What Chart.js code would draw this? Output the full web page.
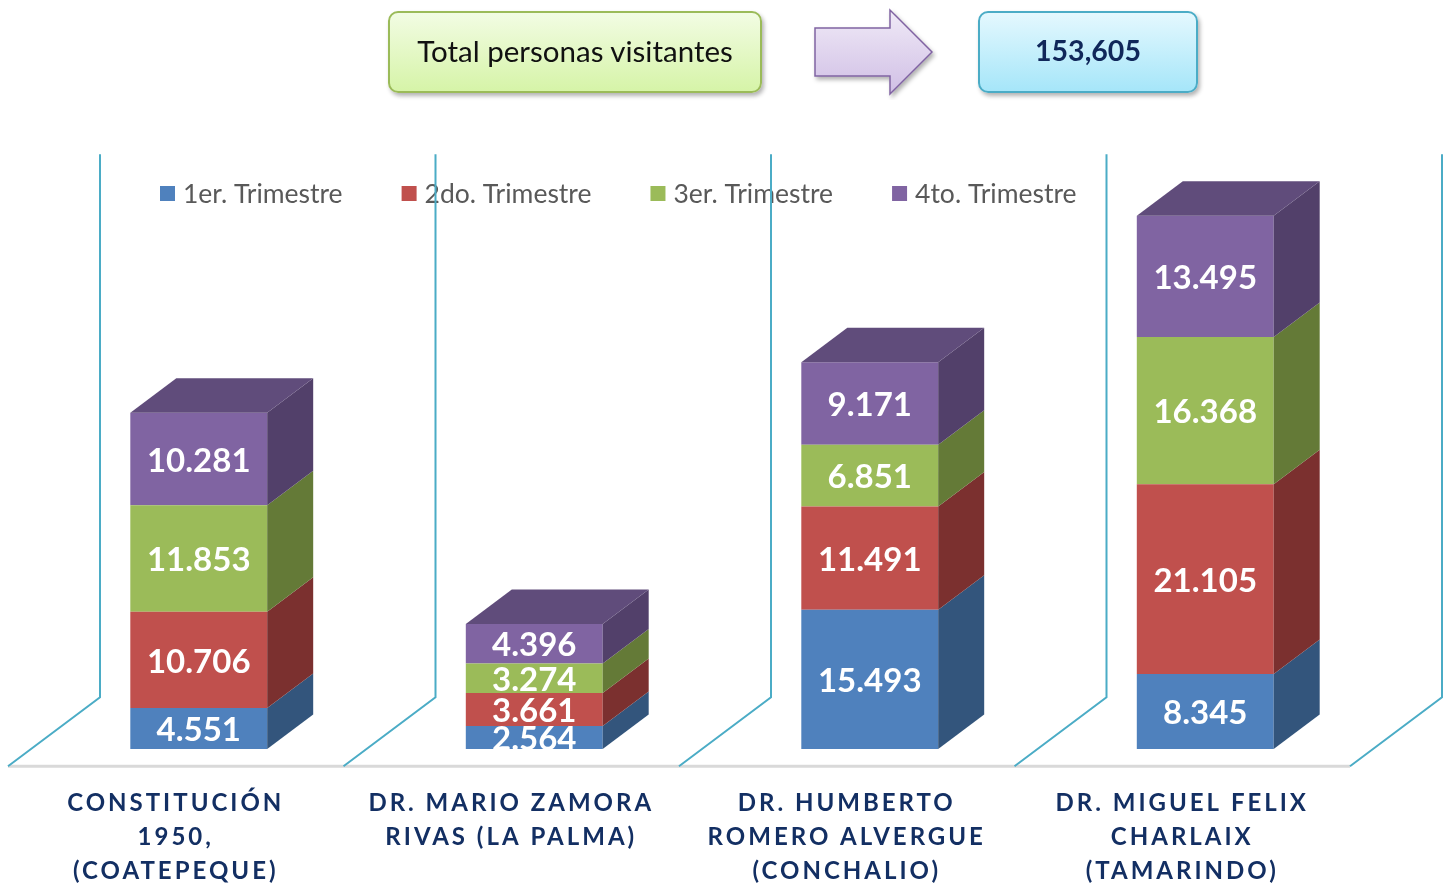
<!DOCTYPE html>
<html>
<head>
<meta charset="utf-8">
<title>Total personas visitantes</title>
<script src="https://cdn.jsdelivr.net/npm/chart.js@4.4.1/dist/chart.umd.min.js"></script>
<style>
  body { margin: 0; background: #fff; font-family: Lato, sans-serif; }
  #wrap { position: relative; width: 1443px; height: 886px; }
  #c { position: absolute; left: 0; top: 0; }
  .box {
    position: absolute; top: 11px; height: 82px; box-sizing: border-box;
    border-radius: 10px; display: flex; align-items: center; justify-content: center;
    padding-bottom: 4px;
    box-shadow: 2px 3px 4px rgba(0, 0, 0, 0.3);
  }
  #lbl { left: 388px; width: 374px; border: 2px solid #9BBB59;
    background: linear-gradient(#F2FCE3, #D6F4A8); font-size: 29.5px; color: #111; }
  #total { left: 978px; width: 220px; border: 2px solid #4BACC6;
    background: linear-gradient(#E4F8FE, #A6E6F9); font-size: 28.5px; font-weight: bold; color: #10275A; }
  #arrow { position: absolute; left: 812px; top: 8px; }
</style>
</head>
<body>
<div id="wrap">
  <canvas id="c" width="1443" height="886"></canvas>
  <div class="box" id="lbl">Total personas visitantes</div>
  <svg id="arrow" width="126" height="92" viewBox="0 0 126 92">
    <defs>
      <linearGradient id="ag" x1="0" y1="0" x2="0" y2="1">
        <stop offset="0" stop-color="#F0EAF7"/>
        <stop offset="1" stop-color="#D0BFE5"/>
      </linearGradient>
      <filter id="sh"><feDropShadow dx="2" dy="3" stdDeviation="2" flood-opacity="0.3"/></filter>
    </defs>
    <polygon points="3,20 78,20 78,2 120,44 78,86 78,68 3,68" fill="url(#ag)" stroke="#8064A2" stroke-width="1.5" filter="url(#sh)"/>
  </svg>
  <div class="box" id="total"></div>
</div>
<script>
// data
const categories = [
  ["CONSTITUCIÓN", "1950,", "(COATEPEQUE)"],
  ["DR. MARIO ZAMORA", "RIVAS (LA PALMA)"],
  ["DR. HUMBERTO", "ROMERO ALVERGUE", "(CONCHALIO)"],
  ["DR. MIGUEL FELIX", "CHARLAIX", "(TAMARINDO)"]
];
const seriesNames = ["1er. Trimestre", "2do. Trimestre", "3er. Trimestre", "4to. Trimestre"];
const q1 = [4551, 2564, 15493, 8345];
const q2 = [10706, 3661, 11491, 21105];
const q3 = [11853, 3274, 6851, 16368];
const q4 = [10281, 4396, 9171, 13495];
const yMax = 60400;

const frontColors = ["#4F81BD", "#C0504D", "#9BBB59", "#8064A2"];
const sideColors = ["#33557C", "#7B302F", "#647A37", "#52406A"];
const topColors = ["#3E6796", "#99403D", "#7C9647", "#604C7B"];

// depth of the floor, bars sit in the middle half of it
const DEPTH_X = 92, DEPTH_Y = -69;

const allSeries = [q1, q2, q3, q4];
let total = 0;
allSeries.forEach(s => s.forEach(v => total += v));
document.getElementById("total").textContent = total.toLocaleString("en-US");

const fmt = v => v.toLocaleString("de-DE");

function poly(ctx, pts) {
  ctx.beginPath();
  ctx.moveTo(pts[0][0], pts[0][1]);
  for (let i = 1; i < pts.length; i++) ctx.lineTo(pts[i][0], pts[i][1]);
  ctx.closePath();
  ctx.fill();
}

const cube = {
  id: "cube",
  beforeDatasetsDraw(chart) {
    const { ctx, chartArea: a } = chart;
    const n = chart.data.labels.length;
    const w = (a.right - a.left) / n;
    const fx = -0.25 * DEPTH_X, fy = -0.25 * DEPTH_Y;
    const bx = 0.75 * DEPTH_X, by = 0.75 * DEPTH_Y;
    ctx.save();

    // legend
    ctx.font = "26.5px Lato";
    ctx.textBaseline = "middle";
    let lx = 160;
    const ly = 194;
    chart.data.datasets.forEach(ds => {
      ctx.fillStyle = ds.backgroundColor;
      ctx.fillRect(lx, ly - 8, 15, 15);
      ctx.fillStyle = "#595959";
      ctx.fillText(ds.label, lx + 23, ly);
      lx += 23 + ctx.measureText(ds.label).width + 59;
    });

    // floor front edge
    ctx.strokeStyle = "#D9D9D9";
    ctx.lineWidth = 3;
    ctx.beginPath();
    ctx.moveTo(a.left + fx, a.bottom + fy);
    ctx.lineTo(a.right + fx, a.bottom + fy);
    ctx.stroke();

    // floor diagonals and back walls
    ctx.strokeStyle = "#4BACC6";
    ctx.lineWidth = 2;
    for (let i = 0; i <= n; i++) {
      const X = a.left + i * w;
      ctx.beginPath();
      ctx.moveTo(X + fx, a.bottom + fy);
      ctx.lineTo(X + bx, a.bottom + by);
      ctx.lineTo(X + bx, a.top + by);
      ctx.stroke();
    }
    ctx.restore();
  },
  afterDatasetsDraw(chart) {
    const { ctx, chartArea: a } = chart;
    const dx = DEPTH_X / 2, dy = DEPTH_Y / 2;
    const last = chart.data.datasets.length - 1;
    ctx.save();
    chart.data.datasets.forEach((ds, di) => {
      chart.getDatasetMeta(di).data.forEach(bar => {
        const { x, y, base, width } = bar.getProps(["x", "y", "base", "width"], true);
        const l = x - width / 2, r = x + width / 2;
        ctx.fillStyle = sideColors[di];
        poly(ctx, [[r, y], [r + dx, y + dy], [r + dx, base + dy], [r, base]]);
        if (di === last) {
          ctx.fillStyle = topColors[di];
          poly(ctx, [[l, y], [l + dx, y + dy], [r + dx, y + dy], [r, y]]);
        }
      });
    });

    // value labels, clipped at the floor like the original
    ctx.beginPath();
    ctx.rect(0, 0, chart.width, a.bottom);
    ctx.clip();
    ctx.font = "bold 33px Lato";
    ctx.fillStyle = "#fff";
    ctx.textAlign = "center";
    ctx.textBaseline = "middle";
    chart.data.datasets.forEach((ds, di) => {
      chart.getDatasetMeta(di).data.forEach((bar, i) => {
        const { x, y, base } = bar.getProps(["x", "y", "base"], true);
        ctx.fillText(fmt(ds.data[i]), x, (y + base) / 2 + 2);
      });
    });
    ctx.restore();
    // spaced capitals for the category names drawn next
    ctx.letterSpacing = "3px";
  },
  afterDraw(chart) {
    chart.ctx.letterSpacing = "0px";
  }
};

new Chart(document.getElementById("c"), {
  type: "bar",
  data: {
    labels: categories,
    datasets: allSeries.map((s, i) => ({
      label: seriesNames[i],
      data: s,
      backgroundColor: frontColors[i],
      borderWidth: 0,
      categoryPercentage: 1,
      barPercentage: 0.408
    }))
  },
  options: {
    responsive: false,
    animation: false,
    devicePixelRatio: 1,
    layout: { padding: { left: 31, right: 70, top: 206, bottom: 0 } },
    plugins: {
      legend: { display: false },
      tooltip: { enabled: false }
    },
    scales: {
      x: {
        stacked: true,
        grid: { display: false, drawTicks: false },
        border: { display: false },
        afterFit: s => { s.height = 137; },
        ticks: {
          z: 1,
          autoSkip: false,
          maxRotation: 0,
          padding: 37,
          labelOffset: -23,
          color: "#132F63",
          font: { family: "Lato", size: 24, weight: "bold", lineHeight: 1.42 }
        }
      },
      y: {
        stacked: true,
        display: false,
        min: 0,
        max: yMax
      }
    }
  },
  plugins: [cube]
});
</script>
</body>
</html>
